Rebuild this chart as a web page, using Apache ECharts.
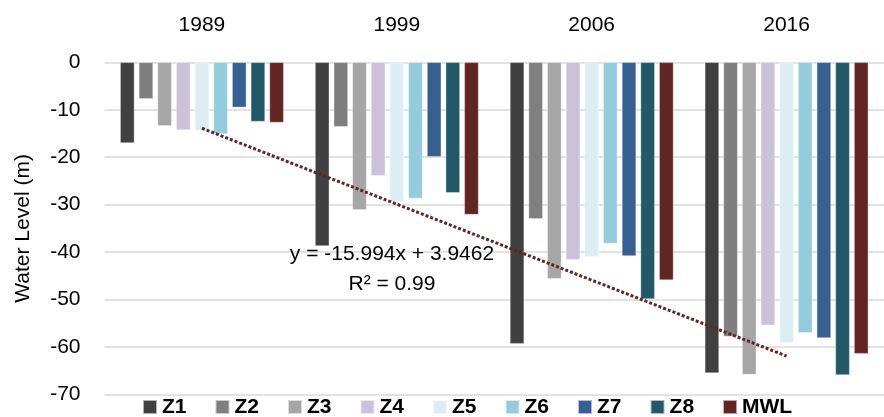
<!DOCTYPE html>
<html><head><meta charset="utf-8">
<script src="https://cdn.jsdelivr.net/npm/echarts@6/dist/echarts.min.js"></script>
<style>html,body{margin:0;padding:0;background:#fff}#c{width:884px;height:417px}</style>
</head><body><div id="c"></div>
<script>
const years = ['1989', '1999', '2006', '2016'];
const seriesNames = ['Z1', 'Z2', 'Z3', 'Z4', 'Z5', 'Z6', 'Z7', 'Z8', 'MWL'];
const Z1 = [-17.0, -38.7, -59.3, -65.5];
const Z2 = [-7.7, -13.6, -33.0, -57.8];
const Z3 = [-13.4, -31.1, -45.6, -65.8];
const Z4 = [-14.3, -23.9, -41.6, -55.4];
const Z5 = [-14.4, -29.4, -41.0, -59.1];
const Z6 = [-15.1, -28.7, -38.2, -57.0];
const Z7 = [-9.5, -19.9, -40.8, -58.1];
const Z8 = [-12.5, -27.5, -49.9, -65.9];
const MWL = [-12.7, -32.1, -45.9, -61.4];
const trendEnds = [-13.9, null, null, -61.9];
const yTicks = [0, -10, -20, -30, -40, -50, -60, -70];
const colors = ['#404040', '#7f7f7f', '#a6a6a6', '#ccc1da', '#dbeef4', '#93cddd', '#366092', '#215968', '#632523'];
const values = [Z1, Z2, Z3, Z4, Z5, Z6, Z7, Z8, MWL];
const FONT = 'Liberation Sans';

const chart = echarts.init(document.getElementById('c'), null, {renderer: 'canvas'});
const barSeries = seriesNames.map((n, i) => ({
  name: n, type: 'bar', data: values[i], barWidth: 14.3, barGap: '30.5%',
  itemStyle: {color: colors[i], borderColor: 'rgba(255,255,255,0.6)', borderWidth: 0.6},
  z: 2
}));
chart.setOption({
  animation: false,
  color: colors,
  textStyle: {fontFamily: FONT},
  grid: {left: 104.5, right: 0, top: 62.3, bottom: 22.5, containLabel: false},
  xAxis: {
    type: 'category', data: years, position: 'top',
    axisLine: {show: false}, axisTick: {show: false},
    axisLabel: {color: '#000', fontSize: 21, fontFamily: FONT, margin: 27}
  },
  yAxis: {
    type: 'value', min: -70, max: 0, interval: 10,
    name: 'Water Level (m)', nameLocation: 'middle', nameRotate: 90, nameGap: 71,
    nameTextStyle: {color: '#000', fontSize: 21, fontFamily: FONT},
    axisLine: {show: false}, axisTick: {show: false},
    axisLabel: {color: '#000', fontSize: 21, fontFamily: FONT, margin: 24,
      formatter: v => yTicks.indexOf(v) >= 0 ? String(v) : ''},
    splitLine: {lineStyle: {color: '#d9d9d9', width: 1.5}}
  },
  legend: {
    data: seriesNames, left: 142, top: 396, itemWidth: 14, itemHeight: 14, itemGap: 28,
    icon: 'rect', padding: 0,
    textStyle: {color: '#000', fontSize: 21, lineHeight: 22, fontWeight: 'bold', fontFamily: FONT}
  },
  graphic: [
    {type: 'text', position: [392, 254], style: {text: 'y = -15.994x + 3.9462', font: '21px "Liberation Sans"', fill: '#000', textAlign: 'center', textVerticalAlign: 'middle'}, z: 10},
    {type: 'text', position: [392, 284], style: {text: 'R² = 0.99', font: '21px "Liberation Sans"', fill: '#000', textAlign: 'center', textVerticalAlign: 'middle'}, z: 10}
  ],
  series: barSeries.concat([{
    name: 'trend', type: 'line', data: trendEnds, connectNulls: true, showSymbol: false, symbol: 'none',
    lineStyle: {color: '#632523', width: 3, type: [3, 2]}, z: 5, silent: true
  }])
});
</script></body></html>
